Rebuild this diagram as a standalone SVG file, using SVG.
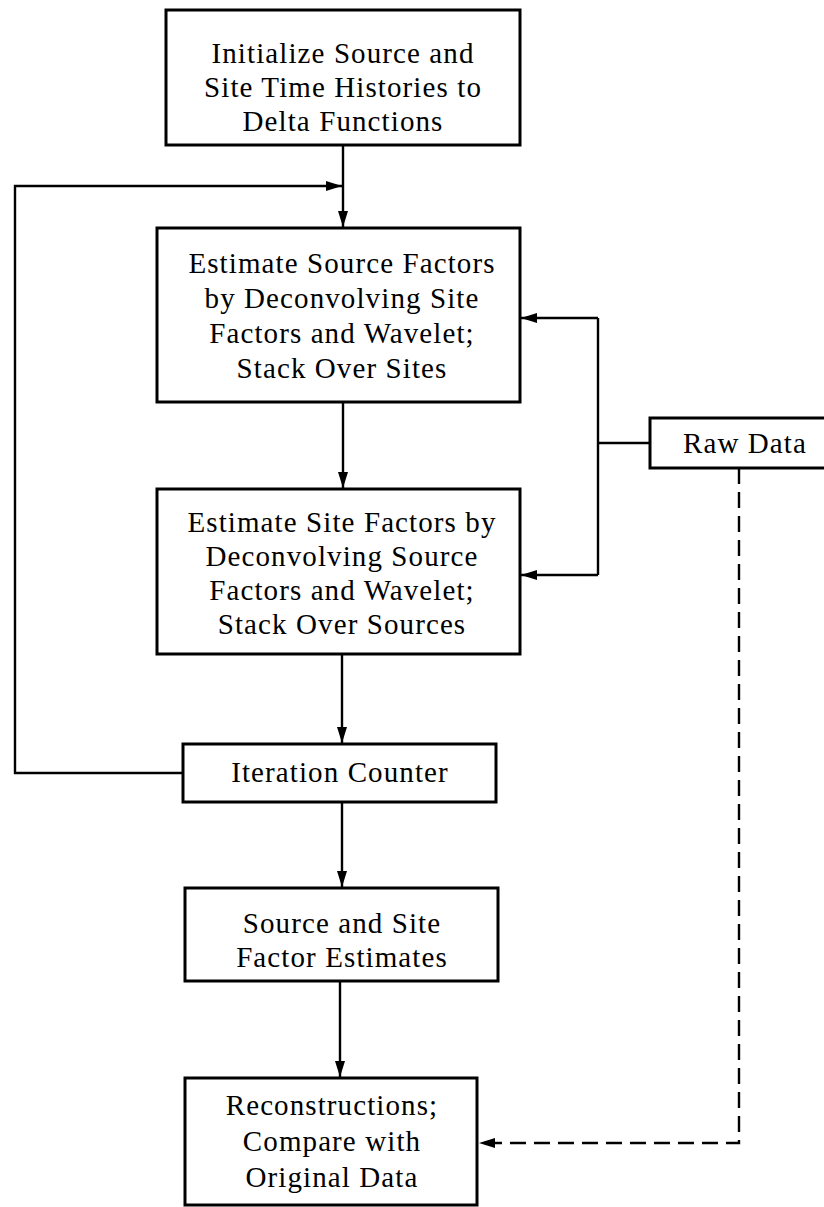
<svg xmlns="http://www.w3.org/2000/svg" width="824" height="1207" viewBox="0 0 824 1207">
<style>
.box{fill:#fff;stroke:#000;stroke-width:3}
.t{font-family:"Liberation Serif","Times New Roman",serif;font-size:29px;letter-spacing:1.1px;fill:#000;text-anchor:middle}
.ln{fill:none;stroke:#000;stroke-width:2.4}
.dash{fill:none;stroke:#000;stroke-width:2.4;stroke-dasharray:16 8}
</style>
<defs>
<marker id="ah" viewBox="0 0 16 10" refX="16" refY="5" markerWidth="16" markerHeight="10" markerUnits="userSpaceOnUse" orient="auto">
<path d="M0,0 L16,5 L0,10 Z" fill="#000"/>
</marker>
</defs>
<rect width="824" height="1207" fill="#fff"/>
<g id="connectors">
<line class="ln" x1="343" y1="145" x2="343" y2="227" marker-end="url(#ah)"/>
<polyline class="ln" points="183,773 15,773 15,186 342,186" marker-end="url(#ah)"/>
<line class="ln" x1="343" y1="402" x2="343" y2="488" marker-end="url(#ah)"/>
<line class="ln" x1="342" y1="654" x2="342" y2="743" marker-end="url(#ah)"/>
<line class="ln" x1="342" y1="802" x2="342" y2="887" marker-end="url(#ah)"/>
<line class="ln" x1="340" y1="981" x2="340" y2="1077" marker-end="url(#ah)"/>
<line class="ln" x1="650" y1="443" x2="598" y2="443"/>
<polyline class="ln" points="598,318 598,575"/>
<line class="ln" x1="598" y1="318" x2="521" y2="318" marker-end="url(#ah)"/>
<line class="ln" x1="598" y1="575" x2="521" y2="575" marker-end="url(#ah)"/>
<polyline class="dash" points="739,468 739,1143 479,1143" marker-end="url(#ah)"/>
</g>
<g id="init">
<rect class="box" x="166" y="10" width="354" height="135"/>
<text class="t" x="343" y="63">Initialize Source and</text>
<text class="t" x="343" y="97">Site Time Histories to</text>
<text class="t" x="343" y="131">Delta Functions</text>
</g>
<g id="source-est">
<rect class="box" x="157" y="228" width="363" height="174"/>
<text class="t" x="342" y="273">Estimate Source Factors</text>
<text class="t" x="342" y="308">by Deconvolving Site</text>
<text class="t" x="342" y="343">Factors and Wavelet;</text>
<text class="t" x="342" y="378">Stack Over Sites</text>
</g>
<g id="site-est">
<rect class="box" x="157" y="489" width="363" height="165"/>
<text class="t" x="342" y="532">Estimate Site Factors by</text>
<text class="t" x="342" y="566">Deconvolving Source</text>
<text class="t" x="342" y="600">Factors and Wavelet;</text>
<text class="t" x="342" y="634">Stack Over Sources</text>
</g>
<g id="raw-data">
<rect class="box" x="650" y="418" width="190" height="50"/>
<text class="t" x="745" y="453">Raw Data</text>
</g>
<g id="iteration">
<rect class="box" x="183" y="744" width="313" height="58"/>
<text class="t" x="340" y="782">Iteration Counter</text>
</g>
<g id="estimates">
<rect class="box" x="185" y="888" width="313" height="93"/>
<text class="t" x="342" y="933">Source and Site</text>
<text class="t" x="342" y="967">Factor Estimates</text>
</g>
<g id="reconstructions">
<rect class="box" x="185" y="1078" width="292" height="127"/>
<text class="t" x="332" y="1115">Reconstructions;</text>
<text class="t" x="332" y="1151">Compare with</text>
<text class="t" x="332" y="1187">Original Data</text>
</g>
</svg>
